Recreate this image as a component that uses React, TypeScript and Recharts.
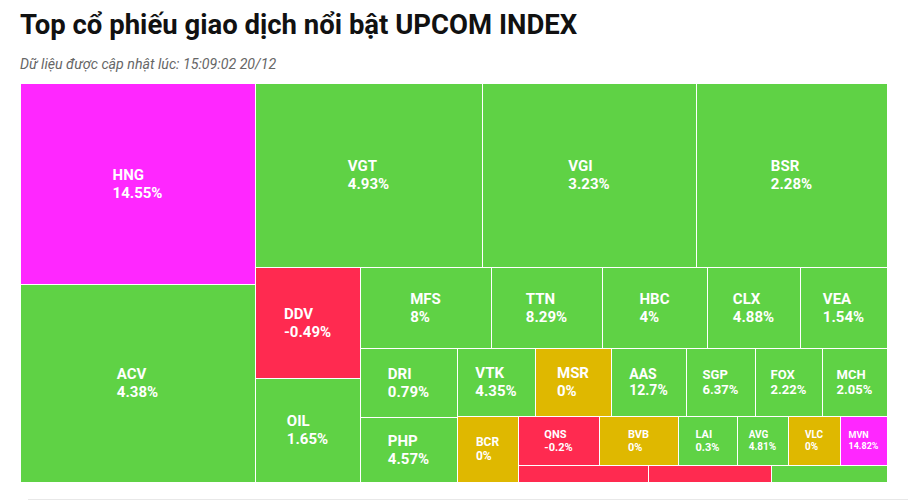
import React from "react";
import { Treemap } from "recharts";

// tickers, traded value (area units) and % change, in layout order
const codes = [
  "HNG", "ACV", "VGT", "VGI", "BSR", "DDV", "OIL", "MFS", "TTN", "HBC",
  "CLX", "VEA", "DRI", "PHP", "VTK", "MSR", "AAS", "SGP", "FOX", "MCH",
  "BCR", "QNS", "BVB", "LAI", "AVG", "VLC", "MVN", "#1", "#2", "#3",
];
const values = [
  472.35, 465.3, 417.68, 393.76, 351.44, 116.55, 109.2, 106.11, 89.91, 85.05,
  75.33, 70.47, 66.93, 63.05, 53.04, 51.68, 51, 46.92, 45.56, 44.2,
  40.26, 39.69, 38.71, 28.91, 24.99, 25.48, 23.03, 22.1, 20.91, 19.72,
];
const changes = [
  14.55, 4.38, 4.93, 3.23, 2.28, -0.49, 1.65, 8, 8.29, 4,
  4.88, 1.54, 0.79, 4.57, 4.35, 0, 12.7, 6.37, 2.22, 2.05,
  0, -0.2, 0, 0.3, 4.81, 0, 14.82, -1, -1, 1,
];

// how the tiles are grouped; null = empty node that keeps its siblings in one strip
type Layout = string | null | Layout[];
const groups: Layout[] = [
  ["HNG", "ACV"],
  [
    ["VGT", "VGI", "BSR"],
    [
      ["DDV", "OIL"],
      [
        null,
        ["MFS", "TTN", "HBC", "CLX", "VEA"],
        [
          "DRI",
          "PHP",
          [
            null,
            ["VTK", "MSR", "AAS", "SGP", "FOX", "MCH"],
            ["BCR", [null, ["QNS", "BVB", "LAI", "AVG", "VLC", "MVN"], ["#1", "#2", "#3"]]],
          ],
        ],
      ],
    ],
  ],
];

let gid = 0;
const build = (l: Layout): any => {
  if (l === null) return { name: `spacer-${gid++}`, value: 0 };
  if (typeof l === "string") {
    const i = codes.indexOf(l);
    return { name: l, value: values[i], change: changes[i], leaf: true };
  }
  return { name: `group-${gid++}`, children: l.map(build) };
};
const data = groups.map(build);

const colorOf = (c: number) =>
  c >= 14 ? "#ff27ff" : c > 0 ? "#5fd245" : c < 0 ? "#ff2a50" : "#dfb800";

let ctx: CanvasRenderingContext2D | null = null;
const textWidth = (s: string, fs: number) => {
  if (!ctx) ctx = document.createElement("canvas").getContext("2d");
  if (!ctx) return s.length * fs * 0.55;
  ctx.font = `700 ${fs}px Roboto`;
  return ctx.measureText(s).width;
};

const Cell = (props: any) => {
  const { x, y, width, height, leaf, name, change } = props;
  if (!leaf || !(width > 0) || !(height > 0)) return null;
  const fs = Math.round(Math.max(9, Math.min(15, width / 5.2, height / 4.4)));
  const pct = `${change}%`;
  const w = Math.max(textWidth(name, fs), textWidth(pct, fs));
  const cx = x + width / 2;
  const cy = y + height / 2;
  return (
    <g>
      <rect
        x={x + 0.5}
        y={y + 0.5}
        width={width}
        height={height}
        fill={colorOf(change)}
        stroke="#fff"
        strokeWidth={1}
      />
      {height >= 30 && (
        <text
          x={cx - w / 2}
          fill="#fff"
          fontFamily="Roboto"
          fontWeight={700}
          fontSize={fs}
        >
          <tspan x={cx - w / 2} y={cy - 0.245 * fs}>
            {name}
          </tspan>
          <tspan x={cx - w / 2} y={cy + 0.955 * fs}>
            {pct}
          </tspan>
        </text>
      )}
    </g>
  );
};

export default function App() {
  return (
    <div
      style={{
        position: "absolute",
        left: 0,
        top: 0,
        width: 908,
        height: 500,
        background: "#fff",
        fontFamily: "Roboto",
        overflow: "hidden",
      }}
    >
      <div
        style={{
          position: "absolute",
          left: 20,
          top: 8,
          fontSize: 27.5,
          fontWeight: 700,
          lineHeight: "34px",
          color: "#111",
          whiteSpace: "nowrap",
        }}
      >
        Top cổ phiếu giao dịch nổi bật UPCOM INDEX
      </div>
      <div
        style={{
          position: "absolute",
          left: 20,
          top: 56,
          fontSize: 14.2,
          fontStyle: "italic",
          lineHeight: "17px",
          color: "#666",
          whiteSpace: "nowrap",
        }}
      >
        Dữ liệu được cập nhật lúc: 15:09:02 20/12
      </div>
      <div style={{ position: "absolute", left: 20, top: 83 }}>
        <Treemap
          width={867}
          height={399}
          data={data}
          dataKey="value"
          isAnimationActive={false}
          content={<Cell />}
        />
      </div>
      <div
        style={{
          position: "absolute",
          left: 28,
          top: 499,
          width: 880,
          height: 1,
          background: "#e8e8e8",
        }}
      />
    </div>
  );
}
